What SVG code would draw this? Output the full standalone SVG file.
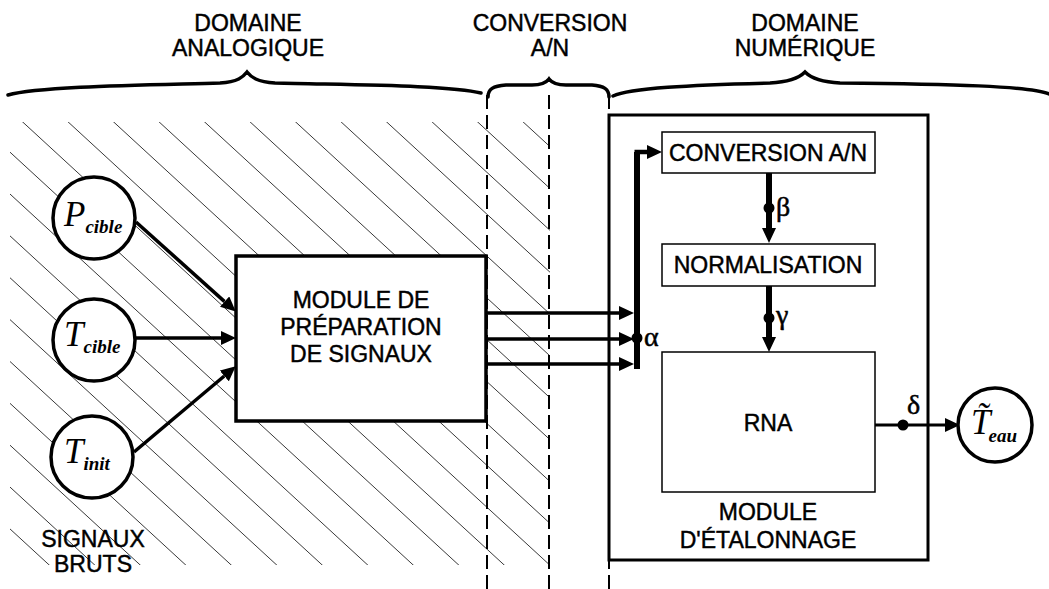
<svg xmlns="http://www.w3.org/2000/svg" width="1049" height="589" viewBox="0 0 1049 589">
<style>
.t{font-family:"Liberation Sans",Arial,sans-serif;font-size:23px;fill:#000;stroke:#000;stroke-width:0.45;text-anchor:middle}
.m{font-family:"Liberation Serif","Times New Roman",serif;font-style:italic;fill:#000}
.s{font-weight:bold}
.g{font-family:"Liberation Serif","Times New Roman",serif;font-size:28px;fill:#000;stroke:#000;stroke-width:0.5}
.brace{fill:none;stroke:#000;stroke-width:3.5;stroke-linecap:round}
.dash{fill:none;stroke:#000;stroke-width:2;stroke-dasharray:14 6}
.hatch{fill:none;stroke:#222;stroke-width:0.9}
.node{fill:#fff;stroke:#000;stroke-width:3.5}
.thin{fill:#fff;stroke:#000;stroke-width:1.5}
.w{fill:none;stroke:#000}
.dot{fill:#000}
</style>
<defs>
<marker id="ah" viewBox="0 0 15 14" refX="0" refY="7" markerWidth="15" markerHeight="14" markerUnits="userSpaceOnUse" orient="auto">
<path d="M0,0 L15,7 L0,14 z" fill="#000"/>
</marker>
<clipPath id="hclip"><rect x="10" y="122" width="540" height="443"/></clipPath>
</defs>
<rect width="1049" height="589" fill="#fff"/>

<g id="hatching" clip-path="url(#hclip)">
<path class="hatch" d="M-547.2,100 l521.7,480 M-501.7,100 l521.7,480 M-456.2,100 l521.7,480 M-410.7,100 l521.7,480 M-365.2,100 l521.7,480 M-319.7,100 l521.7,480 M-274.2,100 l521.7,480 M-228.7,100 l521.7,480 M-183.2,100 l521.7,480 M-137.7,100 l521.7,480 M-92.2,100 l521.7,480 M-46.7,100 l521.7,480 M-1.2,100 l521.7,480 M44.3,100 l521.7,480 M89.8,100 l521.7,480 M135.3,100 l521.7,480 M180.8,100 l521.7,480 M226.3,100 l521.7,480 M271.8,100 l521.7,480 M317.3,100 l521.7,480 M362.8,100 l521.7,480 M408.3,100 l521.7,480 M453.8,100 l521.7,480 M499.3,100 l521.7,480 M544.8,100 l521.7,480"/>
</g>

<g id="domains">
<text class="t" x="248" y="31">DOMAINE</text>
<text class="t" x="248" y="56">ANALOGIQUE</text>
<text class="t" x="550" y="31">CONVERSION</text>
<text class="t" x="550" y="56">A/N</text>
<text class="t" x="805" y="31">DOMAINE</text>
<text class="t" x="805" y="56">NUMÉRIQUE</text>
<path class="brace" d="M8,95 C40,86 150,85 220,83 C238,82 243,77 247,72 C251,77 257,82 275,83 C350,85 450,85 481,93"/>
<path class="brace" d="M488,97 C488,89 493,86 506,85 L532,85 C541,85 546,83 549,79 C552,83 557,85 566,85 L592,85 C604,86 609,89 609,97"/>
<path class="brace" d="M613,96 C630,88 690,85 770,83 C790,82 800,77 805,72 C810,77 820,82 840,83 C950,84 1030,86 1049,94"/>
<path class="dash" d="M487,95 V589 M549,95 V589 M609,95 V589"/>
</g>

<g id="connectors">
<path class="w" stroke-width="3.5" marker-end="url(#ah)" d="M136,222 L224.6,301.6"/>
<path class="w" stroke-width="3.5" marker-end="url(#ah)" d="M135,338 L221,338"/>
<path class="w" stroke-width="3.5" marker-end="url(#ah)" d="M134,452 L224.3,376"/>
<path class="w" stroke-width="3.5" marker-end="url(#ah)" d="M487,313 H619"/>
<path class="w" stroke-width="3.5" marker-end="url(#ah)" d="M487,339 H619"/>
<path class="w" stroke-width="3.5" marker-end="url(#ah)" d="M487,364 H619"/>
<path class="w" stroke-width="6" d="M637,369 V152"/>
<path class="w" stroke-width="4.5" marker-end="url(#ah)" d="M634.5,152 H647"/>
<path class="w" stroke-width="6" marker-end="url(#ah)" d="M769,173 V228"/>
<path class="w" stroke-width="6" marker-end="url(#ah)" d="M769,286 V337"/>
<path class="w" stroke-width="3" marker-end="url(#ah)" d="M875,425 H945"/>
<circle class="dot" cx="637" cy="338" r="5.5"/>
<circle class="dot" cx="769" cy="208" r="5.5"/>
<circle class="dot" cx="769" cy="318" r="5.5"/>
<circle class="dot" cx="903" cy="425" r="5.5"/>
<text class="g" x="644" y="346">α</text>
<text class="g" x="776" y="216">β</text>
<text class="g" x="776" y="324">γ</text>
<text class="g" x="907" y="414">δ</text>
</g>

<g id="p-cible">
<circle class="node" cx="94" cy="218" r="41"/>
<text class="m" x="64" y="226" font-size="35">P<tspan class="s" font-size="19" dy="7">cible</tspan></text>
</g>
<g id="t-cible">
<circle class="node" cx="94" cy="340" r="41"/>
<text class="m" x="64" y="346" font-size="35">T<tspan class="s" font-size="19" dy="7">cible</tspan></text>
</g>
<g id="t-init">
<circle class="node" cx="92" cy="457" r="41"/>
<text class="m" x="64" y="463" font-size="35">T<tspan class="s" font-size="19" dy="7">init</tspan></text>
</g>
<g id="signaux-bruts">
<text class="t" x="93" y="547">SIGNAUX</text>
<text class="t" x="93" y="572">BRUTS</text>
</g>

<g id="module-preparation">
<rect class="node" x="236" y="256" width="250" height="165"/>
<text class="t" x="361" y="308">MODULE DE</text>
<text class="t" x="361" y="335">PRÉPARATION</text>
<text class="t" x="361" y="362">DE SIGNAUX</text>
</g>

<g id="module-etalonnage">
<rect x="609" y="115" width="319" height="445" fill="none" stroke="#000" stroke-width="3"/>
<text class="t" x="768" y="520">MODULE</text>
<text class="t" x="768" y="548">D'ÉTALONNAGE</text>
</g>
<g id="conversion-an">
<rect class="thin" x="662" y="132" width="213" height="41"/>
<text class="t" x="768" y="161">CONVERSION A/N</text>
</g>
<g id="normalisation">
<rect class="thin" x="662" y="244" width="213" height="42"/>
<text class="t" x="768" y="273">NORMALISATION</text>
</g>
<g id="rna">
<rect class="thin" x="662" y="352" width="213" height="140"/>
<text class="t" x="768" y="431">RNA</text>
</g>

<g id="t-eau">
<circle class="node" cx="995" cy="425" r="37" stroke-width="3"/>
<text class="m" x="971" y="434" font-size="35">T̃<tspan class="s" font-size="19" dy="8" dx="-2">eau</tspan></text>
</g>
</svg>
